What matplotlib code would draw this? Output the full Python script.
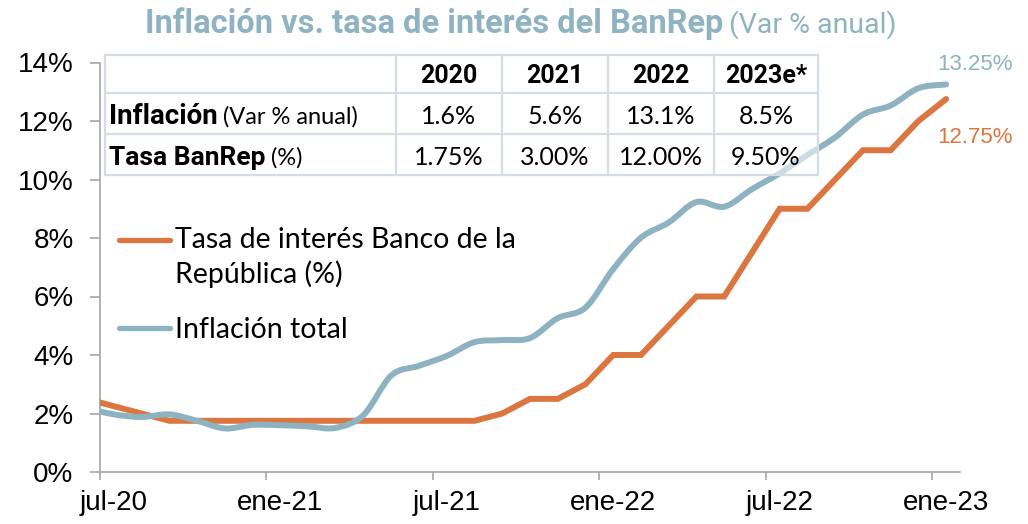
import numpy as np
import matplotlib
matplotlib.use("Agg")
import matplotlib.pyplot as plt
from matplotlib.path import Path
from matplotlib.patches import PathPatch, Rectangle
from matplotlib.lines import Line2D
from matplotlib import font_manager as fm

# ---------------- data ----------------
months = ['jun-20', 'jul-20', 'ago-20', 'sep-20', 'oct-20', 'nov-20', 'dic-20',
          'ene-21', 'feb-21', 'mar-21', 'abr-21', 'may-21', 'jun-21', 'jul-21',
          'ago-21', 'sep-21', 'oct-21', 'nov-21', 'dic-21', 'ene-22', 'feb-22',
          'mar-22', 'abr-22', 'may-22', 'jun-22', 'jul-22', 'ago-22', 'sep-22',
          'oct-22', 'nov-22', 'dic-22', 'ene-23']
tasa_banrep = [2.50, 2.25, 2.00, 1.75, 1.75, 1.75, 1.75, 1.75, 1.75, 1.75, 1.75,
               1.75, 1.75, 1.75, 1.75, 2.00, 2.50, 2.50, 3.00, 4.00, 4.00, 5.00,
               6.00, 6.00, 7.50, 9.00, 9.00, 10.00, 11.00, 11.00, 12.00, 12.75]
inflacion = [2.19, 1.97, 1.88, 1.97, 1.75, 1.49, 1.61, 1.60, 1.56, 1.51, 1.95,
             3.30, 3.63, 3.97, 4.44, 4.51, 4.58, 5.26, 5.62, 6.94, 8.01, 8.53,
             9.23, 9.07, 9.67, 10.21, 10.84, 11.44, 12.22, 12.53, 13.12, 13.25]
tick_labels = ['jul-20', 'ene-21', 'jul-21', 'ene-22', 'jul-22', 'ene-23']
y_ticks = [0, 2, 4, 6, 8, 10, 12, 14]

tabla_anios = ['2020', '2021', '2022', '2023e*']
tabla_inflacion = ['1.6%', '5.6%', '13.1%', '8.5%']
tabla_tasa = ['1.75%', '3.00%', '12.00%', '9.50%']

serie_tasa = 'Tasa de interés Banco de la\nRepública (%)'
serie_infl = 'Inflación total'
titulo = 'Inflación vs. tasa de interés del BanRep'
subtitulo = '(Var % anual)'

# ---------------- style ----------------
ORANGE = '#DC7640'
BLUE = '#8DB3C1'
TITLE_C = '#8FB3C1'
GRAY = '#A6A6A6'
BORDER = '#D6DCE6'

names = {f.name for f in fm.fontManager.ttflist}
def pick(*cands):
    for c in cands:
        if c in names:
            return c
    return 'DejaVu Sans'
NARROW = pick('Liberation Sans Narrow', 'Roboto', 'Lato')
REG = pick('Lato', 'Noto Sans')
ARIAL = pick('Liberation Sans', 'DejaVu Sans')

W, H = 1028, 524
fig = plt.figure(figsize=(W / 100, H / 100), dpi=100)
def fx(x):
    return x / W
def fy(y):
    return 1 - y / H

ax = fig.add_axes([fx(100), fy(472), fx(960) - fx(100), fy(62.5) - fy(472)])

x = np.arange(len(months))
# orange series
ax.plot(x, tasa_banrep, color=ORANGE, lw=4.3, solid_capstyle='round',
        solid_joinstyle='miter', zorder=3)

# blue series, smoothed (Excel-like bezier)
pts = np.column_stack([x, inflacion]).astype(float)
verts = [pts[0]]
codes = [Path.MOVETO]
n = len(pts)
for i in range(n - 1):
    p0 = pts[i - 1] if i > 0 else pts[i]
    p1 = pts[i]
    p2 = pts[i + 1]
    p3 = pts[i + 2] if i + 2 < n else pts[i + 1]
    verts += [p1 + (p2 - p0) / 6, p2 - (p3 - p1) / 6, p2]
    codes += [Path.CURVE4] * 3
patch = PathPatch(Path(verts, codes), fill=False, edgecolor=BLUE, lw=4.3,
                  capstyle='round', joinstyle='round', zorder=4)
ax.add_patch(patch)

ax.set_xlim(0.5, len(months) - 0.5)
ax.set_ylim(0, 14)

# axes styling
for s in ['top', 'right']:
    ax.spines[s].set_visible(False)
for s in ['left', 'bottom']:
    ax.spines[s].set_color(GRAY)
    ax.spines[s].set_linewidth(1.2)

label_idx = [months.index(t) for t in tick_labels]
ax.set_xticks([i - 0.5 for i in label_idx])
ax.set_xticklabels([])
ax.set_xticks(label_idx, minor=True)
ax.set_xticklabels(tick_labels, minor=True)
ax.tick_params(axis='x', which='major', length=6, width=1.2, color=GRAY, direction='out')
ax.tick_params(axis='x', which='minor', length=0, pad=13,
               labelsize=20, labelcolor='black')
ax.set_yticks(y_ticks)
ax.set_yticklabels([f'{v}%' for v in y_ticks])
ax.tick_params(axis='y', length=7, width=1.2, color=GRAY, direction='out', pad=12,
               labelsize=20, labelcolor='black')
for lab in ax.get_xticklabels(minor=True) + ax.get_yticklabels():
    lab.set_fontfamily(ARIAL)

# end labels
ax.annotate(f'{inflacion[-1]:.2f}%', xy=(x[-1], inflacion[-1]), xytext=(-9, 20),
            textcoords='offset pixels', ha='left', va='center', fontsize=16,
            color=BLUE, fontfamily=ARIAL)
ax.annotate(f'{tasa_banrep[-1]:.2f}%', xy=(x[-1], tasa_banrep[-1]), xytext=(-9, -38),
            textcoords='offset pixels', ha='left', va='center', fontsize=16,
            color=ORANGE, fontfamily=ARIAL)

fig.canvas.draw()
renderer = fig.canvas.get_renderer()

def text_after(t1, txt, **kw):
    bb = t1.get_window_extent(renderer)
    x0 = bb.x1 / W + kw.pop('gap', 5) / W
    y0 = t1.get_position()[1]
    return fig.text(x0, y0, txt, **kw)

# title
t = fig.text(fx(145), fy(33), titulo, fontsize=23.5, fontweight='bold',
             color=TITLE_C, fontfamily=NARROW, va='baseline', ha='left')
text_after(t, subtitulo, fontsize=20.5, color=TITLE_C, fontfamily=NARROW,
           va='baseline', ha='left', gap=6)

# table
xs = [105, 396, 502, 608, 714, 818]
ys = [55, 93, 134, 175]
fig.add_artist(Rectangle((fx(xs[0]), fy(ys[-1])), fx(xs[-1]) - fx(xs[0]),
                         fy(ys[0]) - fy(ys[-1]), facecolor='white', alpha=0.55,
                         edgecolor='none', zorder=5))
for xv in xs:
    fig.add_artist(Line2D([fx(xv), fx(xv)], [fy(ys[0]), fy(ys[-1])], color=BORDER,
                          lw=1.6, zorder=6))
for yv in ys:
    fig.add_artist(Line2D([fx(xs[0]), fx(xs[-1])], [fy(yv), fy(yv)], color=BORDER,
                          lw=1.6, zorder=6))
base = [83, 124, 165]
for j, lab in enumerate(tabla_anios):
    cx = (xs[j + 1] + xs[j + 2]) / 2
    fig.text(fx(cx), fy(base[0]), lab, ha='center', va='baseline', fontsize=18,
             fontweight='bold', fontfamily=NARROW, zorder=7)
    fig.text(fx(cx), fy(base[1]), tabla_inflacion[j], ha='center', va='baseline',
             fontsize=18, fontfamily=REG, zorder=7)
    fig.text(fx(cx), fy(base[2]), tabla_tasa[j], ha='center', va='baseline',
             fontsize=18, fontfamily=REG, zorder=7)
r1 = fig.text(fx(109), fy(base[1]), 'Inflación', ha='left', va='baseline', fontsize=20,
              fontweight='bold', fontfamily=NARROW, zorder=7)
r2 = fig.text(fx(109), fy(base[2]), 'Tasa BanRep', ha='left', va='baseline', fontsize=19,
              fontweight='bold', fontfamily=NARROW, zorder=7)
fig.canvas.draw()
text_after(r1, '(Var % anual)', fontsize=17, fontfamily=REG, ha='left',
           va='baseline', gap=5, zorder=7)
text_after(r2, '(%)', fontsize=17, fontfamily=REG, ha='left', va='baseline',
           gap=5, zorder=7)

# legend (manual)
fig.add_artist(Line2D([fx(119), fx(170)], [fy(240), fy(240)], color=ORANGE, lw=3.8,
                      solid_capstyle='round'))
fig.add_artist(Line2D([fx(119), fx(170)], [fy(328), fy(328)], color=BLUE, lw=3.8,
                      solid_capstyle='round'))
l1, l2 = serie_tasa.split('\n')
fig.text(fx(175), fy(248), l1, fontsize=20.5, fontfamily=REG, va='baseline', ha='left')
fig.text(fx(175), fy(283), l2, fontsize=20.5, fontfamily=REG, va='baseline', ha='left')
fig.text(fx(175), fy(338), serie_infl, fontsize=20.5, fontfamily=REG, va='baseline', ha='left')

fig.savefig('out.png', dpi=100)
